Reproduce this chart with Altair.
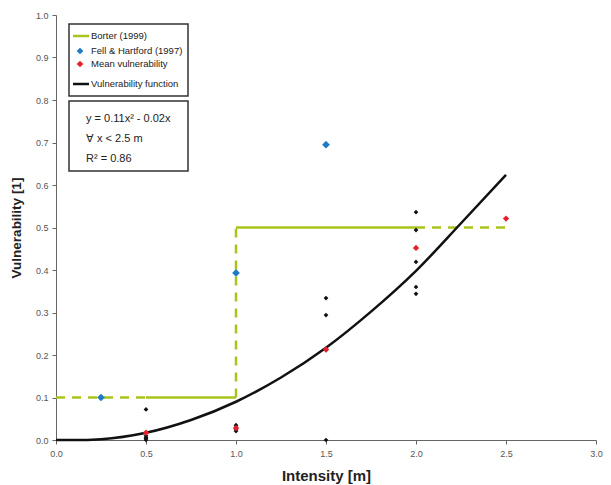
import altair as alt
import pandas as pd

# ---------------- data ----------------
intensity_ticks = [0.0, 0.5, 1.0, 1.5, 2.0, 2.5, 3.0]
vuln_ticks = [0.0, 0.1, 0.2, 0.3, 0.4, 0.5, 0.6, 0.7, 0.8, 0.9, 1.0]

series = ["Borter (1999)", "Fell & Hartford (1997)", "Mean vulnerability", "Vulnerability function"]
series_colors = ["#a9c41c", "#1f7ac6", "#e8202e", "#111111"]
series_symbol = ["line", "diamond", "diamond", "line"]

# Borter (1999) step function, split into solid / dashed pieces
borter_x = [0.0, 0.5, 0.5, 1.0, 1.0, 1.0, 1.0, 2.0, 2.0, 2.5]
borter_y = [0.1, 0.1, 0.1, 0.1, 0.1, 0.5, 0.5, 0.5, 0.5, 0.5]
borter_seg = [1, 1, 2, 2, 3, 3, 4, 4, 5, 5]
borter_style = ["dashed", "dashed", "solid", "solid", "dashed", "dashed",
                "solid", "solid", "dashed", "dashed"]

# Fell & Hartford (1997)
fell_x = [0.25, 1.0, 1.5]
fell_y = [0.100, 0.393, 0.695]

# Mean vulnerability
mean_x = [0.5, 1.0, 1.5, 2.0, 2.5]
mean_y = [0.017, 0.028, 0.213, 0.452, 0.521]

# Individual observations (black)
obs_x = [0.5, 0.5, 0.5, 0.5, 0.5,
         1.0, 1.0, 1.0, 1.0,
         1.5, 1.5, 1.5, 1.5,
         2.0, 2.0, 2.0, 2.0, 2.0]
obs_y = [0.072, 0.010, 0.006, 0.003, 0.000,
         0.035, 0.030, 0.025, 0.021,
         0.334, 0.294, 0.212, 0.000,
         0.536, 0.494, 0.419, 0.360, 0.344]

# Vulnerability function curve
func_x = [0.0, 0.1, 0.25, 0.5, 0.75, 1.0, 1.25, 1.5, 1.75, 2.0, 2.25, 2.5]
func_y = [0.0, 0.0, 0.002, 0.017, 0.047, 0.090, 0.147, 0.217, 0.302, 0.398, 0.510, 0.624]

equation_text = "y = 0.11x\u00b2 - 0.02x\n\u2200 x < 2.5 m\nR\u00b2 = 0.86"

# ---------------- tables ----------------
borter_df = pd.DataFrame({"x": borter_x, "y": borter_y, "seg": borter_seg,
                          "style": borter_style, "i": list(range(len(borter_x)))})
fell_df = pd.DataFrame({"x": fell_x, "y": fell_y})
mean_df = pd.DataFrame({"x": mean_x, "y": mean_y})
obs_df = pd.DataFrame({"x": obs_x, "y": obs_y})
func_df = pd.DataFrame({"x": func_x, "y": func_y})
eq_df = pd.DataFrame({"t": [equation_text]})
one_df = pd.DataFrame({"k": [0]})

FONT = "Liberation Sans"

xscale = alt.Scale(domain=[0, 3], nice=False, zero=True)
yscale = alt.Scale(domain=[0, 1], nice=False, zero=True)

xaxis = alt.Axis(values=intensity_ticks, format=".1f", grid=False, labelFlush=False,
                 title="Intensity [m]", titleFontSize=15, titleFont=FONT,
                 titleFontWeight="bold", titleColor="#222", titlePadding=10,
                 labelFont=FONT, labelFontSize=9, labelColor="#555",
                 labelPadding=5, tickSize=4, tickColor="#666", domainColor="#666")
yaxis = alt.Axis(values=vuln_ticks, format=".1f", grid=False, labelFlush=False,
                 title="Vulnerability [1]", titleFontSize=13.5, titleFont=FONT,
                 titleFontWeight="bold", titleColor="#222", titlePadding=12,
                 labelFont=FONT, labelFontSize=9, labelColor="#555",
                 labelPadding=4, tickSize=4, tickColor="#666", domainColor="#666")

x = alt.X("x:Q", scale=xscale, axis=xaxis)
y = alt.Y("y:Q", scale=yscale, axis=yaxis)

borter = alt.Chart(borter_df).mark_line(strokeWidth=2.5, color=series_colors[0]).encode(
    x=x, y=y, detail="seg:N", order="i:Q",
    strokeDash=alt.StrokeDash("style:N", scale=alt.Scale(domain=["solid", "dashed"],
                                                         range=[[1, 0], [9, 7]]),
                              legend=None),
)

func = alt.Chart(func_df).mark_line(strokeWidth=2.5, interpolate="monotone",
                                    color=series_colors[3]).encode(x=x, y=y)

obs = alt.Chart(obs_df).mark_point(shape="diamond", filled=True, size=22,
                                   opacity=1, color="#111").encode(x=x, y=y)

mean = alt.Chart(mean_df).mark_point(shape="diamond", filled=True, size=40,
                                     opacity=1, color=series_colors[2]).encode(x=x, y=y)

fell = alt.Chart(fell_df).mark_point(shape="diamond", filled=True, size=60,
                                     opacity=1, color=series_colors[1]).encode(x=x, y=y)

# ---------------- legend box (manual) ----------------
leg_box = alt.Chart(one_df).mark_rect(fill="white", stroke="#333", strokeWidth=1.5).encode(
    x=alt.value(13), x2=alt.value(132), y=alt.value(9), y2=alt.value(81)
)
leg_rows = [21, 36, 49, 69]
leg_layers = [leg_box]
for name, col, sym, ry in zip(series, series_colors, series_symbol, leg_rows):
    if sym == "line":
        leg_layers.append(
            alt.Chart(one_df).mark_rule(color=col, strokeWidth=2.5).encode(
                x=alt.value(17), x2=alt.value(33), y=alt.value(ry)))
    else:
        leg_layers.append(
            alt.Chart(one_df).mark_point(shape="diamond", filled=True, opacity=1,
                                         size=45, color=col).encode(
                x=alt.value(24), y=alt.value(ry)))
    leg_layers.append(
        alt.Chart(pd.DataFrame({"t": [name]})).mark_text(
            align="left", baseline="middle", font=FONT, fontSize=9.5, color="#222"
        ).encode(x=alt.value(35), y=alt.value(ry), text="t:N"))

eq_box = alt.Chart(one_df).mark_rect(fill="white", stroke="#333", strokeWidth=1.5).encode(
    x=alt.value(13), x2=alt.value(132), y=alt.value(86), y2=alt.value(156)
)
eq_text = alt.Chart(eq_df).mark_text(
    align="left", baseline="middle", lineBreak="\n", lineHeight=20,
    font=FONT, fontSize=11, color="#222"
).encode(x=alt.value(30), y=alt.value(104), text="t:N")

chart = alt.layer(borter, func, obs, mean, fell, *leg_layers, eq_box, eq_text).properties(
    width=540, height=425,
    autosize=alt.AutoSizeParams(type="none"),
    padding={"left": 48, "top": 7, "right": 7, "bottom": 44},
    background="white",
).configure_view(stroke=None)

chart.save("out.html", embed_options={"renderer": "svg", "actions": False})
